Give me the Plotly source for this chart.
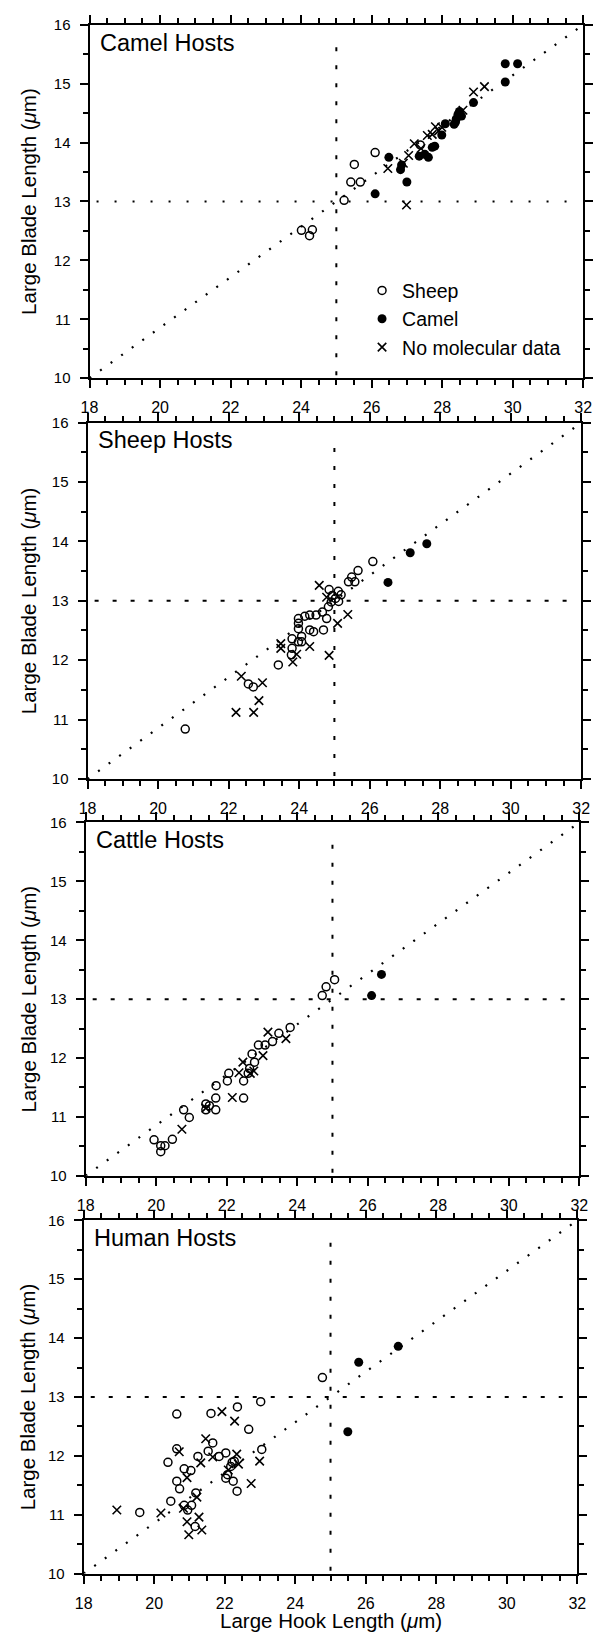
import plotly.graph_objects as go

# ---------------- data ----------------
HOOK_RANGE = [18, 32]
BLADE_RANGE = [10, 16]
X_TICKS = [18, 20, 22, 24, 26, 28, 30, 32]
Y_TICKS = [10, 11, 12, 13, 14, 15, 16]
PANEL_TITLES = ["Camel Hosts", "Sheep Hosts", "Cattle Hosts", "Human Hosts"]
LEGEND_NAMES = ["Sheep", "Camel", "No molecular data"]
X_TITLE = "Large Hook Length (<i>μ</i>m)"
Y_TITLE = "Large Blade Length (<i>μ</i>m)"

DIAG_X = [18, 32]
DIAG_Y = [10, 16]
HOOK_CUTOFF = 25
BLADE_CUTOFF = 13
CUTOFF_H_SPAN = [18.2, 31.8]
CUTOFF_V_SPAN = [10.05, 15.7]

# Panel 1: camel hosts
camel_sheep_x = [26.10, 25.51, 25.41, 25.68, 25.22, 24.01, 24.32, 24.24, 27.38]
camel_sheep_y = [13.83, 13.63, 13.33, 13.33, 13.02, 12.51, 12.52, 12.42, 13.96]
camel_camel_x = [26.49, 26.10, 26.85, 26.82, 27.00, 27.35, 27.51, 27.61, 27.79, 27.72,
                 27.99, 28.09, 28.34, 28.40, 28.45, 28.49, 28.89, 29.79, 29.79, 30.14,
                 28.38, 28.55]
camel_camel_y = [13.75, 13.13, 13.62, 13.54, 13.33, 13.77, 13.80, 13.75, 13.94, 13.92,
                 14.13, 14.32, 14.31, 14.40, 14.48, 14.53, 14.68, 15.03, 15.34, 15.34,
                 14.35, 14.45]
camel_none_x = [26.46, 26.99, 27.05, 27.21, 27.58, 27.81, 27.72, 27.99, 28.89, 29.20,
                26.90, 28.59, 27.40, 27.90]
camel_none_y = [13.56, 12.94, 13.78, 13.98, 14.12, 14.27, 14.14, 14.26, 14.86, 14.95,
                13.65, 14.55, 13.90, 14.20]

# Panel 2: sheep hosts
sheep_sheep_x = [26.09, 25.67, 25.49, 25.40, 25.58, 24.85, 25.11, 25.19, 24.94, 25.03,
                 25.12, 24.91, 24.83, 24.66, 24.78, 24.48, 24.30, 24.16, 23.98, 23.98,
                 23.98, 24.30, 24.41, 24.69, 23.80, 24.07, 23.98, 24.07, 23.80, 23.78,
                 23.41, 22.56, 22.70, 20.77]
sheep_sheep_y = [13.66, 13.51, 13.40, 13.32, 13.32, 13.19, 13.16, 13.10, 13.09, 13.04,
                 12.99, 12.98, 12.90, 12.81, 12.70, 12.76, 12.76, 12.74, 12.70, 12.62,
                 12.53, 12.51, 12.48, 12.51, 12.36, 12.40, 12.31, 12.31, 12.20, 12.09,
                 11.92, 11.60, 11.55, 10.84]
sheep_camel_x = [26.52, 27.15, 27.62]
sheep_camel_y = [13.31, 13.81, 13.96]
sheep_none_x = [24.57, 24.78, 25.38, 25.09, 24.85, 24.30, 23.93, 23.82, 23.48, 23.48,
                22.36, 22.96, 22.86, 22.21, 22.71]
sheep_none_y = [13.26, 13.06, 12.77, 12.62, 12.08, 12.23, 12.10, 11.97, 12.28, 12.20,
                11.73, 11.62, 11.32, 11.12, 11.12]

# Panel 3: cattle hosts
cattle_sheep_x = [25.06, 24.82, 24.71, 23.80, 23.48, 23.30, 23.09, 22.90, 22.72, 22.79,
                  22.65, 22.61, 22.48, 22.06, 22.02, 21.70, 21.69, 22.48, 21.41, 21.51,
                  21.41, 21.69, 20.78, 20.94, 20.46, 19.94, 20.25, 20.13, 20.13]
cattle_sheep_y = [13.33, 13.21, 13.06, 12.52, 12.42, 12.28, 12.22, 12.22, 12.07, 11.93,
                  11.82, 11.74, 11.61, 11.74, 11.61, 11.53, 11.32, 11.32, 11.22, 11.19,
                  11.12, 11.12, 11.12, 10.99, 10.62, 10.61, 10.51, 10.51, 10.41]
cattle_camel_x = [26.39, 26.11]
cattle_camel_y = [13.42, 13.06]
cattle_none_x = [23.17, 23.68, 23.03, 22.46, 22.35, 22.77, 22.67, 22.16, 21.41, 20.73]
cattle_none_y = [12.44, 12.33, 12.04, 11.93, 11.75, 11.78, 11.74, 11.33, 11.15, 10.79]

# Panel 4: human hosts
human_sheep_x = [24.77, 23.02, 22.36, 21.61, 20.64, 22.68, 23.05, 21.66, 20.64, 21.53,
                 22.03, 21.24, 21.84, 20.39, 20.85, 21.04, 22.21, 22.17, 22.08, 22.03,
                 22.24, 20.64, 20.72, 22.35, 21.18, 20.47, 19.59, 20.85, 21.06, 20.95,
                 21.16, 22.27]
human_sheep_y = [13.33, 12.92, 12.83, 12.72, 12.71, 12.45, 12.11, 12.22, 12.12, 12.08,
                 12.05, 11.99, 11.99, 11.89, 11.78, 11.75, 11.89, 11.82, 11.68, 11.62,
                 11.57, 11.57, 11.44, 11.40, 11.37, 11.23, 11.04, 11.16, 11.16, 11.08,
                 10.80, 11.91]
human_camel_x = [25.80, 26.92, 25.49]
human_camel_y = [13.59, 13.86, 12.41]
human_none_x = [21.92, 22.28, 21.46, 20.71, 22.34, 22.39, 21.66, 21.32, 22.99, 20.93,
                22.75, 21.21, 20.83, 18.94, 20.19, 21.27, 20.93, 21.35, 20.98, 22.10]
human_none_y = [12.75, 12.59, 12.29, 12.07, 12.03, 11.86, 11.98, 11.88, 11.91, 11.63,
                11.53, 11.30, 11.11, 11.08, 11.03, 10.96, 10.88, 10.74, 10.66, 11.76]

PANELS = [
    (camel_sheep_x, camel_sheep_y, camel_camel_x, camel_camel_y, camel_none_x, camel_none_y),
    (sheep_sheep_x, sheep_sheep_y, sheep_camel_x, sheep_camel_y, sheep_none_x, sheep_none_y),
    (cattle_sheep_x, cattle_sheep_y, cattle_camel_x, cattle_camel_y, cattle_none_x, cattle_none_y),
    (human_sheep_x, human_sheep_y, human_camel_x, human_camel_y, human_none_x, human_none_y),
]

# ---------------- layout geometry (pixels) ----------------
W, H = 598, 1641
BOXES = [  # left, top, right, bottom
    (83, 16, 592, 373),
    (81, 418, 590, 778),
    (79, 822, 588, 1179),
    (77, 1224, 586, 1581),
]
FONT = "Liberation Sans, Arial, Helvetica, sans-serif"

fig = go.Figure()

marker_styles = [
    dict(symbol="circle-open", size=8, color="black", line=dict(width=1.5, color="black")),
    dict(symbol="circle", size=9, color="black", line=dict(width=0)),
    dict(symbol="x-thin-open", size=8.5, color="black", line=dict(width=1.6, color="black")),
]
h_dash = ["2px,16px", "4px,14px", "4px,14px", "4px,14px"]

for i, data in enumerate(PANELS):
    xa = "x" if i == 0 else f"x{i+1}"
    ya = "y" if i == 0 else f"y{i+1}"
    # reference lines
    fig.add_trace(go.Scatter(x=DIAG_X, y=DIAG_Y, mode="lines", xaxis=xa, yaxis=ya,
                             line=dict(color="black", width=2.2, dash="2px,11px"),
                             hoverinfo="skip", showlegend=False))
    fig.add_trace(go.Scatter(x=CUTOFF_H_SPAN, y=[BLADE_CUTOFF, BLADE_CUTOFF], mode="lines",
                             xaxis=xa, yaxis=ya,
                             line=dict(color="black", width=2, dash=h_dash[i]),
                             hoverinfo="skip", showlegend=False))
    fig.add_trace(go.Scatter(x=[HOOK_CUTOFF, HOOK_CUTOFF], y=CUTOFF_V_SPAN, mode="lines",
                             xaxis=xa, yaxis=ya,
                             line=dict(color="black", width=2, dash="4px,14px"),
                             hoverinfo="skip", showlegend=False))
    for k in range(3):
        fig.add_trace(go.Scatter(x=data[2 * k], y=data[2 * k + 1], mode="markers",
                                 xaxis=xa, yaxis=ya, name=LEGEND_NAMES[k],
                                 showlegend=(i == 0),
                                 marker=marker_styles[k]))

    l, t, r, b = BOXES[i]
    xdom = [l / W, r / W]
    ydom = [1 - b / H, 1 - t / H]
    common = dict(showline=True, linewidth=2, linecolor="black", mirror="allticks",
                  ticks="outside", tickwidth=1.8, tickcolor="black", ticklen=8,
                  showgrid=False, zeroline=False)
    xaxis = dict(common, domain=xdom, range=HOOK_RANGE, tickvals=X_TICKS,
                 ticktext=[str(v) for v in X_TICKS], anchor=ya, ticklabelstandoff=6,
                 tickfont=dict(family=FONT, size=16, color="black"),
                 minor=dict(tick0=18, dtick=0.5, ticks="outside", ticklen=5,
                            tickwidth=1.5, tickcolor="black"))
    yaxis = dict(common, domain=ydom, range=BLADE_RANGE, tickvals=Y_TICKS,
                 ticktext=[str(v) for v in Y_TICKS], anchor=xa, ticklabelstandoff=6,
                 tickfont=dict(family=FONT, size=15, color="black"),
                 minor=dict(tick0=10, dtick=0.5, ticks="outside", ticklen=5,
                            tickwidth=1.5, tickcolor="black"))
    fig.layout["xaxis" if i == 0 else f"xaxis{i+1}"] = xaxis
    fig.layout["yaxis" if i == 0 else f"yaxis{i+1}"] = yaxis

    fig.add_annotation(x=(l + 9) / W, y=1 - (t + 18) / H, xref="paper", yref="paper",
                       text=PANEL_TITLES[i], showarrow=False, xanchor="left", yanchor="middle",
                       font=dict(family=FONT, size=23.5, color="black"))
    fig.add_annotation(x=20 / W, y=1 - ((t + b) / 2) / H, xref="paper", yref="paper",
                       text=Y_TITLE, showarrow=False, textangle=-90,
                       xanchor="center", yanchor="middle",
                       font=dict(family=FONT, size=20.5, color="black"))

l, t, r, b = BOXES[3]
fig.add_annotation(x=((l + r) / 2) / W, y=1 - 1628 / H, xref="paper", yref="paper",
                   text=X_TITLE, showarrow=False, xanchor="center", yanchor="middle",
                   font=dict(family=FONT, size=20.5, color="black"))

fig.update_layout(
    width=W, height=H, margin=dict(l=0, r=0, t=0, b=0),
    paper_bgcolor="white", plot_bgcolor="white",
    showlegend=True,
    legend=dict(x=364 / W, y=1 - 265 / H, xanchor="left", yanchor="top",
                bgcolor="rgba(0,0,0,0)", borderwidth=0,
                font=dict(family=FONT, size=19.5, color="black"),
                tracegroupgap=0, itemwidth=30),
)

fig.write_html("out.html", config={"displayModeBar": False},
               post_script="document.body.style.margin='0';document.body.style.overflow='hidden';")
